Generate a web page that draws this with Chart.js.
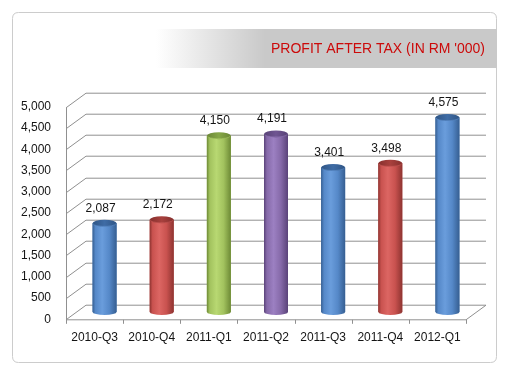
<!DOCTYPE html>
<html>
<head>
<meta charset="utf-8">
<script src="https://cdn.jsdelivr.net/npm/chart.js@4/dist/chart.umd.min.js"></script>
<style>
  html, body { margin: 0; padding: 0; background: #ffffff; }
  #wrap { width: 510px; height: 375px; }
</style>
</head>
<body>
<div id="wrap"><canvas id="c" width="510" height="375"></canvas></div>
<script>
// ---- data ----
const categories = ["2010-Q3", "2010-Q4", "2011-Q1", "2011-Q2", "2011-Q3", "2011-Q4", "2012-Q1"];
const profitAfterTax = [2087, 2172, 4150, 4191, 3401, 3498, 4575];
const barColorNames = ["blue", "red", "green", "purple", "blue", "red", "blue"];
const titleText = "PROFIT AFTER TAX (IN RM '000)";
const yMin = 0, yMax = 5000, yStep = 500;

// ---- styles ----
const palettes = {
  blue:   { base: "#4f81bd", dark: "#365f92", light: "#6a9ddc", mid: "#5588c8", cap: "#3f6ca5", rim: "#2f5585" },
  red:    { base: "#c0504d", dark: "#8e3431", light: "#dc6663", mid: "#c9524f", cap: "#a8403d", rim: "#86302e" },
  green:  { base: "#9bbb59", dark: "#6d8a35", light: "#b8d872", mid: "#a2c25e", cap: "#86a747", rim: "#6a8636" },
  purple: { base: "#8064a2", dark: "#5a4379", light: "#9c80c2", mid: "#866aa9", cap: "#6f5592", rim: "#574275" }
};
const DX = 10, DY = 7.3;          // half depth offset of the 3D box
const gridColor = "#909090";
const textColor = "#141414";
const fontFamily = "'Liberation Sans', Arial, sans-serif";

const fmt = v => v.toLocaleString("en-US");

const decorPlugin = {
  id: "decor",
  beforeDraw(chart) {
    const ctx = chart.ctx;
    ctx.save();
    ctx.fillStyle = "#ffffff";
    ctx.fillRect(0, 0, chart.width, chart.height);
    // card
    const x = 12.5, y = 12.5, w = 484, h = 350, r = 6;
    ctx.beginPath();
    ctx.moveTo(x + r, y);
    ctx.lineTo(x + w - r, y);
    ctx.quadraticCurveTo(x + w, y, x + w, y + r);
    ctx.lineTo(x + w, y + h - r);
    ctx.quadraticCurveTo(x + w, y + h, x + w - r, y + h);
    ctx.lineTo(x + r, y + h);
    ctx.quadraticCurveTo(x, y + h, x, y + h - r);
    ctx.lineTo(x, y + r);
    ctx.quadraticCurveTo(x, y, x + r, y);
    ctx.closePath();
    ctx.strokeStyle = "#cccccc";
    ctx.lineWidth = 1;
    ctx.stroke();
    // title banner
    const g = ctx.createLinearGradient(156, 0, 265, 0);
    g.addColorStop(0, "rgba(201,201,201,0)");
    g.addColorStop(1, "#c9c9c9");
    ctx.fillStyle = g;
    ctx.fillRect(156, 29, 341, 39);
    ctx.fillStyle = "#cc0a0a";
    ctx.font = "14px " + fontFamily;
    ctx.textAlign = "right";
    ctx.textBaseline = "middle";
    ctx.fillText(titleText, 485, 49);
    ctx.restore();
  },
  beforeDatasetsDraw(chart) {
    const ctx = chart.ctx;
    const ys = chart.scales.y, xs = chart.scales.x;
    const L = chart.chartArea.left, R = chart.chartArea.right;
    ctx.save();
    ctx.strokeStyle = gridColor;
    ctx.lineWidth = 1;
    ctx.beginPath();
    for (let v = yMin; v <= yMax; v += yStep) {
      const py = Math.round(ys.getPixelForValue(v));
      // back wall line
      ctx.moveTo(L + DX, py - DY + 0.5);
      ctx.lineTo(R + DX, py - DY + 0.5);
      // side wall diagonal
      ctx.moveTo(L - DX, py + DY + 0.5);
      ctx.lineTo(L + DX, py - DY + 0.5);
    }
    const p0 = Math.round(ys.getPixelForValue(yMin));
    const pTop = Math.round(ys.getPixelForValue(yMax));
    // front vertical axis
    ctx.moveTo(L - DX + 0.5, p0 + DY + 0.5);
    ctx.lineTo(L - DX + 0.5, pTop + DY + 0.5);
    // floor front edge and right edge
    ctx.moveTo(L - DX, p0 + DY + 0.5);
    ctx.lineTo(R - DX, p0 + DY + 0.5);
    ctx.lineTo(R + DX, p0 - DY + 0.5);
    // category ticks on the front edge
    for (let i = 0; i <= categories.length; i++) {
      const tx = Math.round(xs.getPixelForValue(i - 0.5) - DX) + 0.5;
      ctx.moveTo(tx, p0 + DY + 0.5);
      ctx.lineTo(tx, p0 + DY + 4.5);
    }
    ctx.stroke();
    ctx.restore();
  },
  afterDatasetsDraw(chart) {
    const ctx = chart.ctx;
    const meta = chart.getDatasetMeta(0);
    ctx.save();
    meta.data.forEach((el, i) => {
      const p = el.getProps(["x", "y", "base", "width"], true);
      const c = palettes[barColorNames[i]];
      const w = p.width, hx = w / 2, l = p.x - hx, r = p.x + hx;
      const ry = 3;
      const top = p.y, bot = p.base;
      // body
      const g = ctx.createLinearGradient(l, 0, r, 0);
      g.addColorStop(0, c.dark);
      g.addColorStop(0.12, c.mid);
      g.addColorStop(0.4, c.light);
      g.addColorStop(0.7, c.mid);
      g.addColorStop(1, c.dark);
      ctx.fillStyle = g;
      ctx.beginPath();
      ctx.moveTo(l, top);
      ctx.lineTo(l, bot);
      ctx.ellipse(p.x, bot, hx, ry, 0, Math.PI, 0, true);
      ctx.lineTo(r, top);
      ctx.closePath();
      ctx.fill();
      // top cap
      const gc = ctx.createLinearGradient(l, 0, r, 0);
      gc.addColorStop(0, c.rim);
      gc.addColorStop(0.5, c.cap);
      gc.addColorStop(1, c.rim);
      ctx.fillStyle = gc;
      ctx.beginPath();
      ctx.ellipse(p.x, top, hx, ry + 0.5, 0, 0, Math.PI * 2);
      ctx.fill();
      ctx.strokeStyle = c.light;
      ctx.globalAlpha = 0.6;
      ctx.lineWidth = 0.8;
      ctx.beginPath();
      ctx.ellipse(p.x, top, hx - 0.4, ry + 0.1, 0, Math.PI * 0.05, Math.PI * 0.95);
      ctx.stroke();
      ctx.globalAlpha = 1;
      // value label
      ctx.fillStyle = textColor;
      ctx.font = "12px " + fontFamily;
      ctx.textAlign = "center";
      ctx.textBaseline = "middle";
      ctx.fillText(fmt(profitAfterTax[i]), p.x - 4, top - 15);
    });
    ctx.restore();
  }
};

new Chart(document.getElementById("c"), {
  type: "bar",
  data: {
    labels: categories,
    datasets: [{
      label: "Profit after tax",
      data: profitAfterTax,
      backgroundColor: barColorNames.map(n => palettes[n].base),
      borderWidth: 0,
      barPercentage: 0.42,
      categoryPercentage: 1
    }]
  },
  options: {
    responsive: false,
    devicePixelRatio: 1,
    animation: false,
    layout: { padding: { top: 99.5, right: 34, bottom: 0, left: 0 } },
    plugins: {
      legend: { display: false },
      tooltip: { enabled: false },
      title: { display: false }
    },
    scales: {
      x: {
        grid: { display: false, drawTicks: false },
        border: { display: false },
        ticks: {
          color: textColor,
          font: { family: fontFamily, size: 12 },
          padding: 18,
          labelOffset: -DX,
          maxRotation: 0,
          autoSkip: false
        },
        afterFit: s => { s.height = 63; }
      },
      y: {
        min: yMin,
        max: yMax,
        grid: { display: false, drawTicks: false },
        border: { display: false },
        ticks: {
          stepSize: yStep,
          color: textColor,
          font: { family: fontFamily, size: 12 },
          padding: 25,
          labelOffset: DY,
          callback: v => fmt(v)
        },
        afterFit: s => { s.width = 76; }
      }
    }
  },
  plugins: [decorPlugin]
});
</script>
</body>
</html>
